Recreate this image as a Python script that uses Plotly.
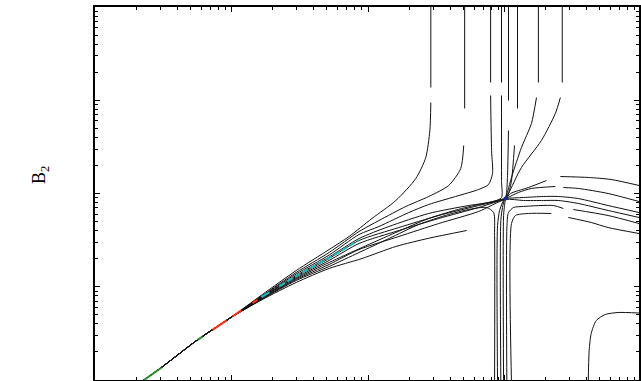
import plotly.graph_objects as go

# ---- data (log10 of x and of B2) ----
base_lgx = [-1.66, -1.504, -1.255, -1.015]
base_lgy = [-2.02, -1.855, -1.576, -1.340]

c1_lgx = base_lgx + [-0.774, -0.526, -0.285, -0.139, 0.029, 0.204, 0.350, 0.423, 0.453, 0.460, None, 0.460, 0.460]
c1_lgy = base_lgy + [-1.083, -0.826, -0.601, -0.461, -0.268, -0.075, 0.161, 0.386, 0.676, 0.976, None, 1.137, 2.05]

c2_lgx = base_lgx + [-0.774, -0.526, -0.285, -0.066, 0.080, 0.277, 0.445, 0.591, 0.679, 0.701, None, 0.708, 0.708]
c2_lgy = base_lgy + [-1.094, -0.847, -0.633, -0.408, -0.290, -0.139, -0.032, 0.086, 0.268, 0.515, None, 0.912, 2.05]

c3_lgx = base_lgx + [-0.774, -0.526, -0.285, -0.066, 0.080, 0.299, 0.445, 0.642, 0.810, 0.883, 0.912, 0.905, 0.898, None, 0.898, 0.898]
c3_lgy = base_lgy + [-1.099, -0.863, -0.660, -0.440, -0.354, -0.204, -0.118, -0.032, 0.043, 0.097, 0.214, 0.461, 1.051, None, 1.190, 2.05]

c4_lgx = base_lgx + [-0.774, -0.526, -0.285, -0.066, 0.153, 0.445, 0.737, 0.920, 0.978, 0.978, 0.978, None, 0.978, 0.978]
c4_lgy = base_lgy + [-1.105, -0.879, -0.681, -0.483, -0.354, -0.214, -0.129, -0.086, -0.043, 0.139, 1.051, None, 1.190, 2.05]

s1_lgx = base_lgx + [-0.774, -0.526, -0.285, -0.066, 0.226, 0.518, 0.810, 1.007, 1.044, 1.175, 1.307, None, 1.409, 1.613, 1.781, 1.985]
s1_lgy = base_lgy + [-1.110, -0.890, -0.697, -0.504, -0.365, -0.236, -0.129, -0.054, 0.000, 0.064, 0.139, None, 0.182, 0.172, 0.150, 0.086]

s2_lgx = base_lgx + [-0.774, -0.526, -0.285, -0.066, 0.226, 0.518, 0.810, 1.007, 1.102, 1.197, 1.372, None, 1.431, 1.540, 1.759, 1.985]
s2_lgy = base_lgy + [-1.115, -0.901, -0.718, -0.536, -0.397, -0.268, -0.150, -0.054, 0.011, 0.054, 0.075, None, 0.064, 0.054, 0.000, -0.086]

s3_lgx = base_lgx + [-0.774, -0.526, -0.285, -0.044, 0.204, 0.445, 0.686, 0.883, 1.007, 1.139, 1.285, 1.394, 1.540, 1.759, 1.985]
s3_lgy = base_lgy + [-1.121, -0.912, -0.740, -0.579, -0.418, -0.268, -0.161, -0.096, -0.054, -0.043, -0.032, -0.032, -0.054, -0.129, -0.204]

s4_lgx = base_lgx + [-0.774, -0.526, -0.285, -0.066, 0.226, 0.518, 0.810, 1.007, 1.139, 1.285, 1.394, 1.540, 1.759, 1.985]
s4_lgy = base_lgy + [-1.126, -0.922, -0.761, -0.601, -0.461, -0.322, -0.193, -0.064, -0.075, -0.075, -0.075, -0.107, -0.182, -0.257]

d1_lgx = base_lgx + [-0.774, -0.526, -0.285, -0.066, 0.153, 0.372, 0.591, 0.774, 0.869, 0.920, 0.927, 0.927]
d1_lgy = base_lgy + [-1.131, -0.933, -0.783, -0.633, -0.483, -0.332, -0.225, -0.161, -0.150, -0.204, -0.450, -2.05]

e_lgx = base_lgx + [-0.774, -0.526, -0.285, -0.044, 0.204, 0.445, 0.723]
e_lgy = base_lgy + [-1.137, -0.954, -0.804, -0.697, -0.568, -0.480, -0.397]

r5_lgx = [1.017, 1.018, 1.029, 1.066, 1.139, 1.358, 1.431, None, 1.504, 1.759, 1.985]
r5_lgy = [-2.05, -0.343, -0.204, -0.150, -0.139, -0.129, -0.161, None, -0.172, -0.236, -0.322]

r6_lgx = [1.051, 1.051, 1.080, 1.175, 1.343, None, 1.467, 1.635, 1.759, 1.985]
r6_lgy = [-2.05, -0.322, -0.236, -0.214, -0.214, None, -0.257, -0.311, -0.365, -0.429]

v2_lgx = [0.949, 0.949, 0.964, 0.993, 1.007]
v2_lgy = [-2.05, -0.343, -0.182, -0.075, -0.054]
v3_lgx = [0.973, 0.973, 0.985, 1.000, 1.007]
v3_lgy = [-2.05, -0.290, -0.150, -0.064, -0.054]
v4_lgx = [0.993, 0.993, 1.000, 1.007]
v4_lgy = [-2.05, -0.236, -0.129, -0.054]

t1_lgx = [1.029, 1.029, None, 1.029, 1.022, 1.015, 1.007]
t1_lgy = [2.05, 0.997, None, 0.676, 0.193, 0.011, -0.054]
t2_lgx = [1.095, 1.095, None, 1.073, 1.051, 1.029, 1.007]
t2_lgy = [2.05, 0.912, None, 0.515, 0.139, 0.000, -0.054]
t3_lgx = [1.248, 1.248, None, 1.234, 1.197, 1.124, 1.051, 1.015, 1.007]
t3_lgy = [2.05, 1.190, None, 1.029, 0.751, 0.493, 0.172, -0.021, -0.054]
t4_lgx = [1.423, 1.423, None, 1.409, 1.372, 1.270, 1.124, 1.029, 1.007]
t4_lgy = [2.05, 1.190, None, 1.029, 0.858, 0.568, 0.279, 0.000, -0.054]

br_lgx = [1.613, 1.620, 1.635, 1.672, 1.737, 1.832, 1.985]
br_lgy = [-2.05, -1.684, -1.501, -1.362, -1.298, -1.276, -1.282]

green_lgx = [-1.66, -1.511, None, -1.248, -1.212]
green_lgy = [-2.02, -1.866, None, -1.569, -1.534]
red_lgx = [-1.139, -1.036, None, -0.993, -0.927, None, -0.847, -0.810]
red_lgy = [-1.462, -1.361, None, -1.319, -1.254, None, -1.176, -1.140]
cyan1_lgx = [-0.781, -0.723]
cyan1_lgy = [-1.112, -1.060]
cyan2_lgx = [-0.650, -0.526, -0.285, -0.066]
cyan2_lgy = [-0.995, -0.885, -0.690, -0.500]
saddle_lgx = [1.007]
saddle_lgy = [-0.054]

x_decades = [0.01, 0.1, 1, 10, 100]
y_decades = [0.01, 0.1, 1, 10, 100]
minor_mult = [2, 3, 4, 5, 6, 7, 8, 9]


def p10(vals):
    return [None if v is None else 10 ** v for v in vals]


black_curves = [
    (c1_lgx, c1_lgy), (c2_lgx, c2_lgy), (c3_lgx, c3_lgy), (c4_lgx, c4_lgy),
    (s1_lgx, s1_lgy), (s2_lgx, s2_lgy), (s3_lgx, s3_lgy), (s4_lgx, s4_lgy),
    (d1_lgx, d1_lgy), (e_lgx, e_lgy), (r5_lgx, r5_lgy), (r6_lgx, r6_lgy),
    (v2_lgx, v2_lgy), (v3_lgx, v3_lgy), (v4_lgx, v4_lgy),
    (t1_lgx, t1_lgy), (t2_lgx, t2_lgy), (t3_lgx, t3_lgy), (t4_lgx, t4_lgy),
    (br_lgx, br_lgy),
]

fig = go.Figure()
for lx, ly in black_curves:
    fig.add_trace(go.Scatter(x=p10(lx), y=p10(ly), mode="lines",
                             line=dict(color="#111111", width=1, shape="spline", smoothing=0.7),
                             connectgaps=False, hoverinfo="skip", showlegend=False))

fig.add_trace(go.Scatter(x=p10(green_lgx), y=p10(green_lgy), mode="lines",
                         line=dict(color="#2e8b2e", width=2), showlegend=False))
fig.add_trace(go.Scatter(x=p10(red_lgx), y=p10(red_lgy), mode="lines",
                         line=dict(color="#ff3010", width=2), showlegend=False))
fig.add_trace(go.Scatter(x=p10(cyan1_lgx), y=p10(cyan1_lgy), mode="lines",
                         line=dict(color="#1fb8c0", width=2), showlegend=False))
fig.add_trace(go.Scatter(x=p10(cyan2_lgx), y=p10(cyan2_lgy), mode="lines",
                         line=dict(color="#1fb8c0", width=2, dash="6px,3px",
                                   shape="spline", smoothing=0.7), showlegend=False))
fig.add_trace(go.Scatter(x=p10(saddle_lgx), y=p10(saddle_lgy), mode="markers",
                         marker=dict(color="#1a2a8a", size=4), showlegend=False))

x_minor = [m * d for d in x_decades[:-1] for m in minor_mult]
y_minor = [m * d for d in y_decades[:-1] for m in minor_mult]

axis_common = dict(
    type="log", showline=True, linecolor="black", linewidth=1.5, mirror="ticks",
    ticks="inside", ticklen=5, tickwidth=1, tickcolor="black",
    showticklabels=False, showgrid=False, zeroline=False,
)

fig.update_xaxes(range=[-2, 1.985], tickvals=x_decades,
                 minor=dict(ticks="inside", ticklen=3, tickwidth=1, tickcolor="black",
                            showgrid=False, tickvals=x_minor),
                 **axis_common)
fig.update_yaxes(range=[-2, 2], tickvals=y_decades,
                 minor=dict(ticks="inside", ticklen=3, tickwidth=1, tickcolor="black",
                            showgrid=False, tickvals=y_minor),
                 **axis_common)

fig.add_annotation(text="B<sub>2</sub>", xref="paper", yref="paper",
                   x=-0.099, y=0.55, textangle=-90, showarrow=False,
                   font=dict(family="Liberation Serif", size=18, color="black"),
                   xanchor="center", yanchor="middle")

fig.update_layout(
    width=641, height=381,
    margin=dict(l=95, r=0, t=7, b=1),
    paper_bgcolor="white", plot_bgcolor="white",
    showlegend=False,
)

fig.write_html("out.html")
